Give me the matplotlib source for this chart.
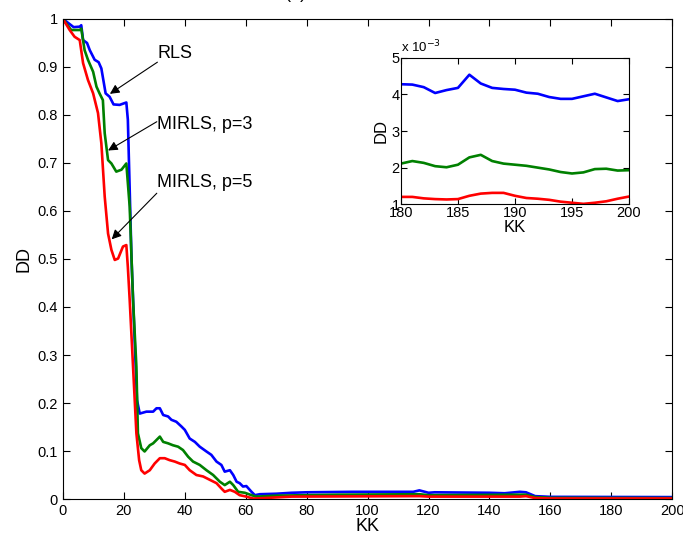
"""
Convergence of RLS vs MIRLS (p=3, p=5) with a zoomed inset of the tail
"""
import matplotlib
matplotlib.use("Agg")
import matplotlib.pyplot as plt

plt.rcParams['font.family'] = ['Liberation Sans', 'DejaVu Sans']
plt.rcParams['xtick.direction'] = 'in'
plt.rcParams['ytick.direction'] = 'in'

# Main curves: (KK, DD) knots
rls_k = [0, 3.5, 5.5, 6, 6.6, 7.9, 8.8, 10.4, 11.7, 12.6, 14, 15.3, 16.6, 18.6,
         19.9, 20.8, 21.3, 22.5, 24.3, 25.2, 27.4, 29.6, 30.7, 31.8, 32.9,
         34.5, 35.6, 37.2, 38.9, 40, 41.6, 43.3, 44.9, 47.1, 48.7, 50.4, 52,
         53.1, 54.8, 55.9, 57, 58, 59.1, 60.2, 61.9, 63, 64.6, 70, 75, 80, 95,
         115, 117, 120, 122, 140, 145, 150, 152, 155, 160, 200]
rls_v = [1.0, 0.983, 0.984, 0.987, 0.956, 0.95, 0.935, 0.915, 0.91, 0.897,
         0.845, 0.838, 0.822, 0.821, 0.824, 0.826, 0.79, 0.5, 0.206, 0.178,
         0.182, 0.182, 0.189, 0.189, 0.175, 0.172, 0.165, 0.161, 0.151, 0.144,
         0.126, 0.119, 0.109, 0.099, 0.092, 0.078, 0.071, 0.057, 0.06, 0.05,
         0.036, 0.033, 0.026, 0.027, 0.015, 0.008, 0.010, 0.011, 0.013, 0.014,
         0.015, 0.015, 0.018, 0.013, 0.014, 0.013, 0.012, 0.015, 0.014, 0.006,
         0.0045, 0.004]

mirls3_k = [0, 2.7, 5.5, 6, 7.1, 8.2, 9.9, 11, 12, 13.1, 13.7, 14.8, 15.9,
            17.5, 19.2, 20.8, 21.9, 23, 24.1, 24.6, 25.7, 26.8, 28.5, 29.6,
            30.7, 31.8, 32.9, 34.5, 36.1, 37.8, 39.4, 41.1, 42.7, 44.9, 47.1,
            49.3, 51.5, 53.1, 54.8, 55.9, 57.5, 59.7, 61.9, 63.5, 70, 90, 117,
            120, 150, 152, 155, 160, 200]
mirls3_v = [1.0, 0.977, 0.977, 0.98, 0.935, 0.915, 0.89, 0.859, 0.845, 0.831,
            0.762, 0.706, 0.699, 0.682, 0.686, 0.699, 0.609, 0.415, 0.276,
            0.137, 0.106, 0.099, 0.112, 0.116, 0.123, 0.13, 0.119, 0.116,
            0.112, 0.109, 0.102, 0.088, 0.078, 0.071, 0.06, 0.05, 0.036,
            0.029, 0.036, 0.029, 0.015, 0.013, 0.008, 0.005, 0.007, 0.009,
            0.010, 0.008, 0.009, 0.009, 0.004, 0.0025, 0.002]

mirls5_k = [0, 2.2, 3.8, 5.5, 6.6, 8.2, 9.9, 11.5, 12.6, 13.7, 14.8, 15.9, 17,
            18.1, 19.7, 20.8, 21.3, 21.9, 23, 24.1, 25, 25.7, 26.8, 28.5,
            30.1, 31.8, 33.4, 35, 36.7, 38.3, 40, 41.6, 43.8, 46, 48.2, 50.4,
            52, 53.1, 54.8, 56.4, 58, 60.2, 62.4, 66, 75, 117, 120, 150, 152,
            155, 160, 200]
mirls5_v = [1.0, 0.977, 0.963, 0.956, 0.908, 0.873, 0.845, 0.804, 0.741, 0.63,
            0.553, 0.519, 0.498, 0.501, 0.526, 0.529, 0.483, 0.415, 0.276,
            0.137, 0.081, 0.06, 0.053, 0.06, 0.074, 0.085, 0.085, 0.081, 0.078,
            0.074, 0.071, 0.06, 0.05, 0.047, 0.04, 0.033, 0.022, 0.015, 0.019,
            0.015, 0.008, 0.005, 0.001, 0.002, 0.005, 0.006, 0.005, 0.005,
            0.006, 0.002, 0.0012, 0.0012]

# Inset: KK = 180..200, DD in units of 1e-3
inset_k = list(range(180, 201))
inset_rls = [4.28, 4.27, 4.2, 4.04, 4.12, 4.18, 4.54, 4.3, 4.18, 4.15, 4.13,
             4.05, 4.02, 3.93, 3.88, 3.88, 3.95, 4.02, 3.92, 3.82, 3.87]
inset_m3 = [2.11, 2.18, 2.13, 2.04, 2.01, 2.08, 2.28, 2.35, 2.18, 2.11, 2.08,
            2.05, 2.0, 1.95, 1.88, 1.84, 1.87, 1.96, 1.97, 1.92, 1.93]
inset_m5 = [1.2, 1.2, 1.16, 1.14, 1.13, 1.14, 1.23, 1.29, 1.31, 1.31, 1.23,
            1.17, 1.15, 1.12, 1.07, 1.04, 1.01, 1.04, 1.08, 1.15, 1.21]

BLUE, GREEN, RED = (0, 0, 1), (0, 0.5, 0), (1, 0, 0)
LW = 1.9

fig = plt.figure(figsize=(6.83, 5.36), dpi=100)
ax = fig.add_axes([0.0922, 0.069, 0.892, 0.8956])
ax.plot(rls_k, rls_v, color=BLUE, lw=LW)
ax.plot(mirls3_k, mirls3_v, color=GREEN, lw=LW)
ax.plot(mirls5_k, mirls5_v, color=RED, lw=LW)
ax.set_xlim(0, 200)
ax.set_ylim(0, 1)
ax.set_xticks(range(0, 201, 20))
ax.set_yticks([i / 10 for i in range(11)])
ax.set_yticklabels(["0", "0.1", "0.2", "0.3", "0.4", "0.5", "0.6", "0.7",
                    "0.8", "0.9", "1"])
ax.tick_params(labelsize=10.5, top=True, right=True, length=5, width=0.8)
ax.set_xlabel("KK", fontsize=13, labelpad=0)
ax.set_ylabel("DD", fontsize=13, labelpad=4)

arrow = dict(arrowstyle="-|>", color="black", lw=0.8, mutation_scale=14,
             shrinkA=0, shrinkB=0)
ax.annotate("", xy=(15.4, 0.844), xytext=(31, 0.91), arrowprops=arrow)
ax.text(31, 0.929, "RLS", fontsize=13, va="center")
ax.annotate("", xy=(14.8, 0.726), xytext=(30.8, 0.786), arrowprops=arrow)
ax.text(31, 0.781, "MIRLS, p=3", fontsize=13, va="center")
ax.annotate("", xy=(16, 0.541), xytext=(30.8, 0.637), arrowprops=arrow)
ax.text(31, 0.659, "MIRLS, p=5", fontsize=13, va="center")

fig.text(0.434, 0.9965, "(a)", fontsize=13, ha="center", va="bottom")

ins = fig.add_axes([0.587, 0.619, 0.334, 0.273])
ins.plot(inset_k, inset_rls, color=BLUE, lw=LW)
ins.plot(inset_k, inset_m3, color=GREEN, lw=LW)
ins.plot(inset_k, inset_m5, color=RED, lw=LW)
ins.set_xlim(180, 200)
ins.set_ylim(1, 5)
ins.set_xticks(range(180, 201, 5))
ins.set_yticks([1, 2, 3, 4, 5])
ins.tick_params(labelsize=10.5, top=True, right=True, length=4, width=0.8,
                pad=1)
ins.set_xlabel("KK", fontsize=12, labelpad=0)
ins.set_ylabel("DD", fontsize=12, labelpad=2)
ins.text(0.0, 1.02, "x 10$^{-3}$", transform=ins.transAxes, fontsize=9.5,
         va="bottom")

fig.savefig("out.png", dpi=100)
